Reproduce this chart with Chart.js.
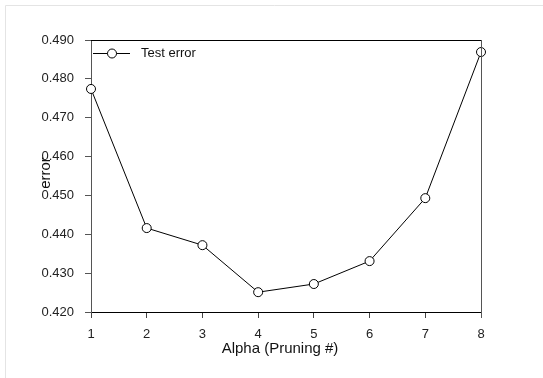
<!DOCTYPE html>
<html>
<head>
<meta charset="utf-8">
<script src="https://cdn.jsdelivr.net/npm/chart.js@4.4.1/dist/chart.umd.min.js"></script>
<style>
  html, body { margin: 0; padding: 0; background: #fff; }
  #wrap { width: 543px; height: 378px; }
</style>
</head>
<body>
<div id="wrap"><canvas id="chart" width="543" height="378"></canvas></div>
<script>
const pruning = [1, 2, 3, 4, 5, 6, 7, 8];
const testError = [0.4774, 0.4416, 0.4372, 0.4251, 0.4272, 0.4331, 0.4493, 0.4869];
const xTicks = [1, 2, 3, 4, 5, 6, 7, 8];
const yTicks = [0.42, 0.43, 0.44, 0.45, 0.46, 0.47, 0.48, 0.49];

const FONT = "'Liberation Sans', Arial, sans-serif";

// frame, outer border, axis titles and the legend entry
const decorations = {
  id: 'decorations',
  beforeDraw(chart) {
    const ctx = chart.ctx;
    ctx.save();
    ctx.fillStyle = '#fff';
    ctx.fillRect(0, 0, chart.width, chart.height);
    ctx.strokeStyle = '#e4e4e4';
    ctx.lineWidth = 1;
    ctx.beginPath();
    ctx.moveTo(5.5, chart.height);
    ctx.lineTo(5.5, 5.5);
    ctx.lineTo(chart.width, 5.5);
    ctx.stroke();
    ctx.restore();
  },
  afterDraw(chart) {
    const { ctx, chartArea: a } = chart;
    ctx.save();
    ctx.lineWidth = 1;
    ctx.strokeStyle = '#000';
    ctx.beginPath();
    ctx.moveTo(a.left, Math.round(a.top) + 0.5);
    ctx.lineTo(a.right, Math.round(a.top) + 0.5);
    ctx.stroke();
    ctx.strokeStyle = '#555';
    ctx.beginPath();
    ctx.moveTo(Math.round(a.right) + 0.5, a.top);
    ctx.lineTo(Math.round(a.right) + 0.5, a.bottom + 6);
    ctx.stroke();

    // axis titles
    ctx.fillStyle = '#111';
    ctx.font = '15px ' + FONT;
    ctx.textAlign = 'center';
    ctx.textBaseline = 'middle';
    ctx.fillText('Alpha (Pruning #)', 280, 349);
    ctx.translate(46, 173);
    ctx.rotate(-Math.PI / 2);
    ctx.fillText('error', 0, 0);
    ctx.restore();

    // legend entry
    const ds = chart.data.datasets[0];
    const ly = 53.5;
    ctx.save();
    ctx.strokeStyle = '#000';
    ctx.lineWidth = 1;
    ctx.beginPath();
    ctx.moveTo(93, ly);
    ctx.lineTo(130, ly);
    ctx.stroke();
    ctx.beginPath();
    ctx.arc(112, ly, 4.5, 0, Math.PI * 2);
    ctx.fillStyle = '#fff';
    ctx.fill();
    ctx.stroke();
    ctx.fillStyle = '#111';
    ctx.font = '13px ' + FONT;
    ctx.textAlign = 'left';
    ctx.textBaseline = 'middle';
    ctx.fillText(ds.label, 141, ly);
    ctx.restore();
  }
};

new Chart(document.getElementById('chart'), {
  type: 'line',
  data: {
    datasets: [{
      label: 'Test error',
      data: pruning.map((x, i) => ({ x, y: testError[i] })),
      borderColor: '#000',
      borderWidth: 1,
      tension: 0,
      clip: false,
      pointRadius: 4.5,
      pointBackgroundColor: '#fff',
      pointBorderColor: '#000',
      pointBorderWidth: 1
    }]
  },
  options: {
    responsive: false,
    animation: false,
    layout: { padding: { left: 0, top: 40, right: 62, bottom: 0 } },
    plugins: {
      legend: { display: false },
      tooltip: { enabled: false }
    },
    scales: {
      x: {
        type: 'linear',
        min: 1,
        max: 8,
        afterFit: s => { s.height = 66; },
        afterBuildTicks: s => { s.ticks = xTicks.map(v => ({ value: v })); },
        ticks: {
          color: '#222',
          font: { family: FONT, size: 13 },
          padding: 9,
          maxRotation: 0
        },
        grid: { drawOnChartArea: false, tickLength: 6, color: '#444' },
        border: { color: '#000' }
      },
      y: {
        min: 0.42,
        max: 0.49,
        afterFit: s => { s.width = 91; },
        afterBuildTicks: s => { s.ticks = yTicks.map(v => ({ value: v })); },
        ticks: {
          color: '#222',
          font: { family: FONT, size: 13 },
          padding: 11,
          callback: v => v.toFixed(3)
        },
        grid: { drawOnChartArea: false, tickLength: 6, color: '#555' },
        border: { color: '#555' }
      }
    }
  },
  plugins: [decorations]
});
</script>
</body>
</html>
